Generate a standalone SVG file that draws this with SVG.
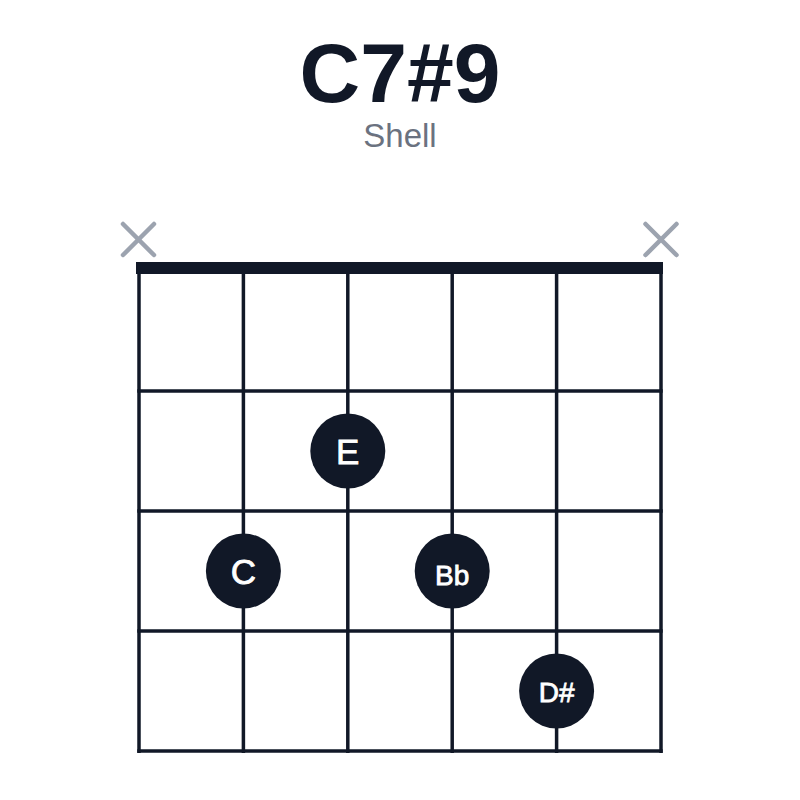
<svg xmlns="http://www.w3.org/2000/svg" width="800" height="800" viewBox="0 0 800 800">
<style>
.grid line{stroke:#111827;stroke-width:3.5}
.mute line{stroke:#9ca3af;stroke-width:4.5;stroke-linecap:round}
.dot circle{fill:#111827}
.dot text{fill:#ffffff;stroke:#ffffff;stroke-width:0.8;font-family:"Liberation Sans",Arial,sans-serif;text-anchor:middle}
.title{font-family:"Liberation Sans",Arial,sans-serif;font-weight:bold;fill:#111827;text-anchor:middle}
.sub{font-family:"Liberation Sans",Arial,sans-serif;fill:#6b7280;text-anchor:middle}
</style>
<rect width="800" height="800" fill="#ffffff"/>
<text class="title" x="400" y="102" font-size="84">C7#9</text>
<text class="sub" x="400" y="147" font-size="33">Shell</text>
<g id="grid" class="grid">
<line x1="139" y1="268" x2="139" y2="753"/>
<line x1="243.4" y1="268" x2="243.4" y2="753"/>
<line x1="347.8" y1="268" x2="347.8" y2="753"/>
<line x1="452.2" y1="268" x2="452.2" y2="753"/>
<line x1="556.6" y1="268" x2="556.6" y2="753"/>
<line x1="661" y1="268" x2="661" y2="753"/>
<line x1="137.3" y1="391" x2="662.7" y2="391"/>
<line x1="137.3" y1="511" x2="662.7" y2="511"/>
<line x1="137.3" y1="631" x2="662.7" y2="631"/>
<line x1="137.3" y1="751" x2="662.7" y2="751"/>
</g>
<rect id="nut" x="136" y="262" width="527" height="12" fill="#111827"/>
<g id="mute-1" class="mute">
<line x1="123" y1="224" x2="154" y2="255"/>
<line x1="154" y1="224" x2="123" y2="255"/>
</g>
<g id="mute-6" class="mute">
<line x1="645.5" y1="224" x2="676.5" y2="255"/>
<line x1="676.5" y1="224" x2="645.5" y2="255"/>
</g>
<g id="dot-E" class="dot">
<circle cx="347.8" cy="451" r="37.5"/>
<text x="347.8" y="464" font-size="35">E</text>
</g>
<g id="dot-C" class="dot">
<circle cx="243.4" cy="571" r="37.5"/>
<text x="243.4" y="584" font-size="35">C</text>
</g>
<g id="dot-Bb" class="dot">
<circle cx="452.2" cy="571" r="37.5"/>
<text x="452.2" y="585" font-size="28">Bb</text>
</g>
<g id="dot-Dsharp" class="dot">
<circle cx="556.6" cy="691" r="37.5"/>
<text x="556.6" y="702" font-size="28">D#</text>
</g>
</svg>
